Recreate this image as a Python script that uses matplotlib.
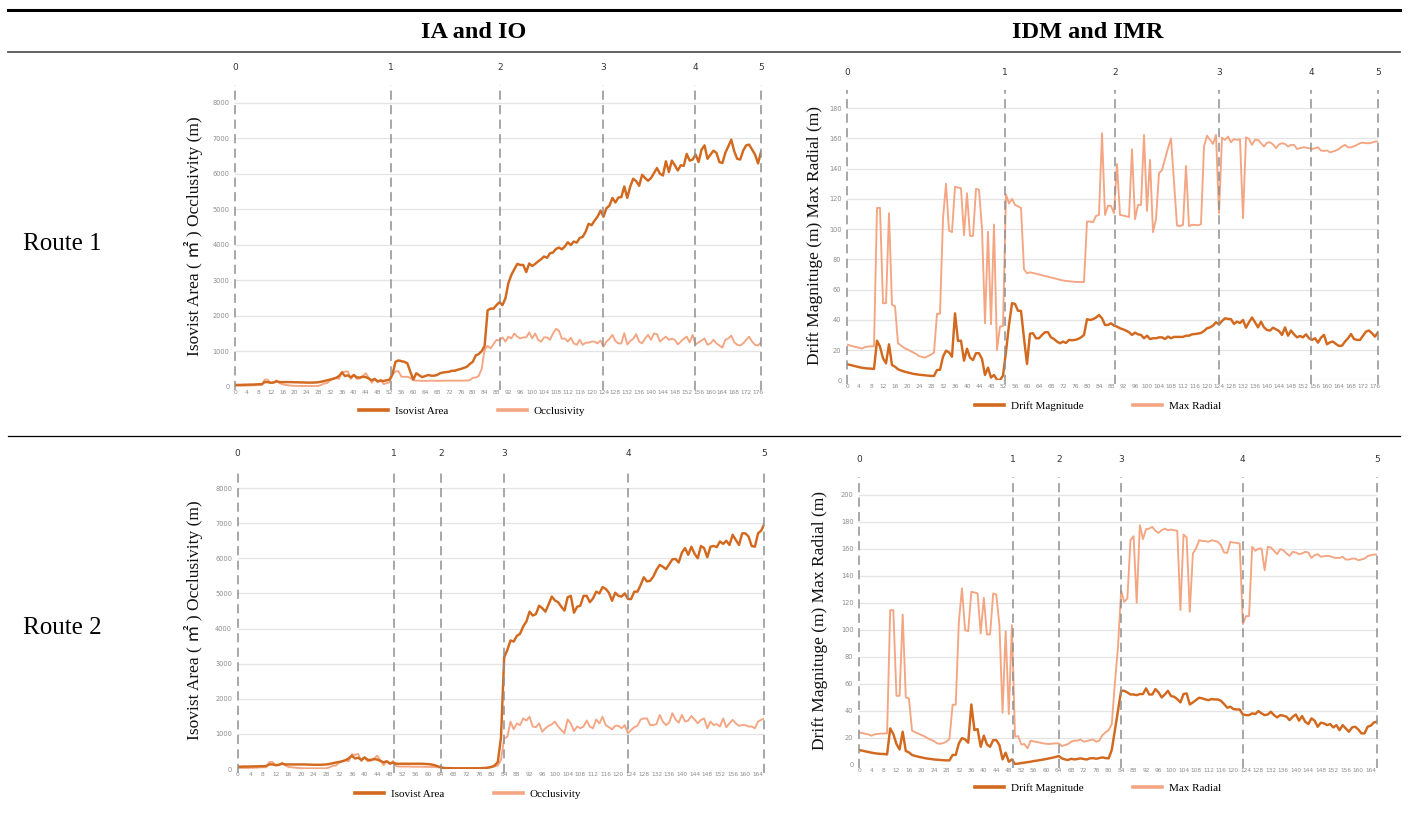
import numpy as np
import matplotlib
matplotlib.use("Agg")
import matplotlib.pyplot as plt
from matplotlib.lines import Line2D

W, H = 1408, 814
DARK = "#D2691E"
LIGHT = "#F4A582"
SERIF = ["Liberation Serif", "Noto Sans CJK SC", "DejaVu Sans"]

col_titles = ["IA and IO", "IDM and IMR"]
row_titles = ["Route 1", "Route 2"]
marker_labels = ["0", "1", "2", "3", "4", "5"]
area_names = ["Isovist Area", "Occlusivity"]
drift_names = ["Drift Magnitude", "Max Radial"]
area_ylabel = "Isovist Area ( ㎡ ) Occlusivity (m)"
drift_ylabel = "Drift Magnituge (m) Max Radial (m)"

# node positions (point index) along each route
route1_markers = [0, 52.5, 89.3, 124, 154.8, 177]
route2_markers = [0, 49.3, 64.2, 84, 123, 166]

# ---- Route 1 ----
route1_isovist_area = [
    50, 50, 50, 55, 55, 60, 60, 65, 70, 70,
    130, 130, 110, 120, 150, 130, 130, 130, 130, 130,
    125, 125, 120, 120, 115, 115, 115, 120, 125, 140,
    160, 180, 200, 220, 250, 300, 400, 300, 320, 260,
    330, 260, 260, 280, 270, 230, 180, 220, 150, 170,
    160, 180, 200, 350, 700, 740, 720, 700, 660, 420,
    200, 380, 320, 270, 300, 330, 310, 310, 330, 380,
    400, 410, 420, 450, 450, 480, 500, 530, 560, 640,
    700, 880, 920, 1000, 1150, 2150, 2200, 2200, 2300, 2380,
    2300, 2490, 2920, 3150, 3310, 3460, 3430, 3430, 3230, 3470,
    3400, 3460, 3530, 3590, 3670, 3630, 3760, 3780, 3880, 3920,
    3870, 3950, 4070, 3990, 4090, 4060, 4190, 4220, 4370, 4590,
    4550, 4680, 4790, 4960, 4790, 5030, 5100, 5320, 5190, 5330,
    5340, 5640, 5320, 5640, 5860, 5790, 5660, 5970, 5880, 5800,
    5880, 6020, 6160, 6000, 5950, 6350, 6050, 6370, 6240, 6090,
    6240, 6220, 6560, 6370, 6400, 6540, 6330, 6680, 6800, 6420,
    6540, 6650, 6590, 6330, 6300, 6590, 6770, 6960, 6630, 6420,
    6400, 6650, 6800, 6820, 6680, 6540, 6290, 6610,
]
route1_occlusivity = [
    30, 30, 30, 30, 30, 35, 40, 45, 50, 50,
    200, 200, 100, 110, 180, 100, 70, 50, 40, 30,
    25, 20, 20, 20, 20, 20, 20, 20, 20, 50,
    90, 100, 180, 230, 250, 220, 420, 420, 430, 220,
    330, 220, 230, 300, 380, 250, 110, 220, 130, 200,
    70, 100, 120, 350, 430, 440, 280, 280, 280, 250,
    180, 170, 170, 165, 165, 165, 170, 170, 165, 165,
    170, 170, 170, 170, 170, 170, 170, 170, 175, 180,
    250, 260, 300, 500, 1050, 1150, 1080, 1200, 1320, 1300,
    1390, 1270, 1410, 1360, 1500, 1410, 1360, 1390, 1390, 1530,
    1360, 1500, 1320, 1270, 1390, 1390, 1320, 1500, 1630, 1580,
    1350, 1360, 1270, 1380, 1220, 1180, 1320, 1180, 1240, 1240,
    1270, 1270, 1220, 1300, 1130, 1270, 1350, 1460, 1290, 1220,
    1220, 1510, 1190, 1290, 1350, 1480, 1270, 1220, 1360, 1460,
    1320, 1500, 1480, 1270, 1350, 1410, 1320, 1350, 1320, 1190,
    1270, 1350, 1410, 1250, 1460, 1190, 1250, 1300, 1360, 1180,
    1220, 1320, 1220, 1160, 1100, 1320, 1360, 1440, 1250, 1180,
    1160, 1220, 1320, 1410, 1270, 1180, 1160, 1250,
]
route1_drift_magnitude = [
    10.6, 10.2, 9.7, 9.2, 8.7, 8.3, 8, 7.8, 7.7, 7.5,
    26.2, 22.3, 14.6, 11.2, 23.8, 10.1, 9, 7.3, 6.5, 5.8,
    5.3, 4.8, 4.3, 4, 3.7, 3.5, 3.3, 3.1, 2.9, 2.9,
    6.8, 7, 15.6, 19.6, 18.5, 15.6, 44.3, 26, 26.2, 13,
    20.9, 15, 13.4, 17.9, 17.9, 14.1, 3.5, 8.4, 1.8, 3.5,
    0.4, 0.2, 3.1, 19, 36.6, 51, 50.5, 46, 45.9, 27.8,
    10.8, 30.9, 31.1, 27.8, 27.8, 30, 31.8, 31.8, 28.4, 27.3,
    25.6, 24.5, 25.6, 24.7, 26.7, 26.5, 26.7, 27.3, 28.4, 30,
    40.4, 39.9, 40.4, 41.5, 43.2, 41, 36.6, 36.6, 37.7, 36.2,
    35.5, 34.4, 33.7, 32.9, 31.8, 30, 31.5, 30.4, 30, 27.8,
    29.5, 27.3, 27.8, 27.8, 28.4, 28.4, 27.3, 28.9, 27.8, 28.7,
    28.7, 28.7, 28.7, 29.5, 29.5, 30.4, 30.6, 30.9, 31.3, 32.6,
    34.4, 35, 36.2, 38.4, 37, 39.2, 41, 40.6, 40.4, 37.3,
    38.8, 37.9, 39.9, 34.8, 38.4, 41.5, 38.4, 35, 38.8, 35,
    33.3, 32.9, 34.8, 33.7, 32.6, 30, 35, 29.5, 32.9, 30.4,
    28.4, 29.3, 28.4, 30.4, 27.8, 26.7, 27.8, 24.9, 28.2, 30,
    23.8, 25.1, 25.6, 24, 22.7, 22.9, 25.6, 27.8, 30.6, 27.3,
    26.7, 26.7, 29.5, 32.2, 32.9, 31.1, 28.9, 31.8,
]
route1_max_radial = [
    23.8, 23, 22.5, 22, 21.5, 21, 22, 22.3, 22.5, 22.5,
    114, 114, 51, 51, 110.5, 50, 49, 24.5, 23, 21.5,
    20.5, 19.5, 18.5, 17.5, 16, 15.5, 15, 16, 17, 18.3,
    44, 44, 107, 130, 99, 98, 128, 127.5, 127, 96,
    123.7, 95.5, 95.5, 126.6, 126, 100.5, 37.7, 98.3, 37, 103,
    20, 35.5, 36, 123, 117, 120, 116, 115, 114, 73.4,
    70.8, 71.4, 71, 70.5, 70, 69.5, 69, 68.5, 68, 67.5,
    67, 66.5, 66, 65.7, 65.5, 65.3, 65.1, 65, 65, 65,
    105, 105, 104.5, 108.7, 109.4, 163.4, 109.4, 115.5, 115.3, 110.5,
    143, 109.4, 109, 108.5, 108, 152.8, 106.5, 116, 116, 162.3,
    112, 145.8, 98, 106.7, 137, 139, 146.4, 153.5, 160, 131,
    102.3, 102, 102.8, 141.8, 102, 102.8, 102.8, 102.5, 103.2, 154.6,
    161.8, 159, 156.3, 162.3, 110.5, 160.5, 159, 161.2, 157.4, 159.6,
    159, 159.4, 107.2, 160.7, 159.6, 155.7, 159, 159, 156.8, 154.6,
    157.2, 157.4, 156, 153.5, 156, 156.8, 156.3, 154.6, 155.7, 155.7,
    153, 153.5, 154.1, 153.9, 153.5, 153, 153.5, 154.1, 152, 151.7,
    152, 150.8, 151.3, 152, 153, 154.6, 155.7, 154.1, 154.1, 154.8,
    155.7, 156.8, 157.2, 156.8, 156.8, 157.2, 157.9, 157.9,
]

# ---- Route 2 ----
route2_isovist_area = [
    60, 65, 70, 70, 70, 75, 75, 80, 80, 85,
    130, 130, 110, 120, 150, 130, 130, 130, 130, 130,
    130, 130, 125, 125, 120, 120, 120, 125, 130, 145,
    165, 185, 200, 220, 250, 300, 380, 300, 320, 260,
    330, 260, 260, 280, 270, 230, 190, 220, 160, 180,
    150, 150, 150, 150, 150, 150, 150, 150, 150, 145,
    140, 130, 110, 80, 50, 30, 25, 25, 20, 20,
    20, 20, 20, 20, 20, 20, 20, 25, 30, 40,
    60, 100, 200, 900, 3180, 3390, 3660, 3630, 3790, 3850,
    4060, 4200, 4480, 4370, 4410, 4650, 4580, 4480, 4690, 4910,
    4800, 4750, 4620, 4510, 4890, 4930, 4450, 4620, 4650, 4930,
    4930, 4750, 4860, 5050, 5000, 5180, 5130, 5020, 4790, 5020,
    4930, 4910, 5000, 4840, 4840, 5050, 5050, 5240, 5460, 5340,
    5360, 5480, 5670, 5810, 5760, 5690, 5830, 5970, 5980, 5880,
    6160, 6290, 6100, 6330, 6130, 6000, 6350, 6290, 6030, 6330,
    6350, 6320, 6480, 6410, 6500, 6380, 6670, 6520, 6380, 6710,
    6710, 6620, 6350, 6330, 6710, 6790, 6980,
]
route2_occlusivity = [
    30, 30, 30, 30, 35, 35, 40, 45, 50, 50,
    200, 200, 100, 110, 180, 100, 60, 50, 40, 30,
    25, 20, 20, 20, 20, 20, 20, 20, 20, 50,
    90, 100, 180, 230, 250, 220, 420, 400, 430, 220,
    330, 220, 230, 300, 380, 250, 110, 220, 130, 230,
    80, 70, 70, 70, 70, 65, 65, 65, 65, 60,
    60, 60, 55, 50, 40, 25, 20, 20, 20, 20,
    20, 20, 20, 20, 20, 20, 20, 20, 25, 40,
    50, 70, 100, 260, 870, 920, 1350, 1130, 1300, 1250,
    1440, 1380, 1490, 1210, 1190, 1300, 1060, 1160, 1230, 1270,
    1350, 1210, 1110, 1020, 1410, 1300, 1080, 1210, 1160, 1210,
    1380, 1210, 1160, 1410, 1300, 1490, 1250, 1190, 1130, 1230,
    1230, 1160, 1250, 1020, 1110, 1190, 1230, 1410, 1440, 1440,
    1250, 1250, 1280, 1540, 1350, 1250, 1320, 1590, 1410, 1320,
    1540, 1350, 1380, 1510, 1410, 1300, 1400, 1440, 1160, 1350,
    1250, 1280, 1210, 1440, 1190, 1300, 1400, 1300, 1230, 1250,
    1250, 1210, 1210, 1160, 1350, 1400, 1440,
]
route2_drift_magnitude = [
    10.9, 10.4, 9.9, 9.4, 8.9, 8.5, 8.2, 8, 7.9, 7.6,
    26.9, 22.7, 15.3, 11.3, 24.4, 10.1, 9.1, 7.2, 6.5, 5.9,
    5.4, 4.9, 4.5, 4.2, 3.9, 3.7, 3.5, 3.3, 3.2, 3.2,
    7.2, 7.2, 15.8, 19.7, 18.7, 16.3, 44.6, 25.6, 26.4, 13.3,
    21.5, 15, 13.3, 18.2, 18.2, 14.5, 3.9, 8.9, 2.2, 3.9,
    0.5, 0.8, 1.2, 1.5, 1.9, 2.2, 2.7, 3, 3.4, 3.8,
    4.2, 4.7, 5.2, 5.7, 6.4, 4.7, 3.9, 3.5, 4.4, 3.9,
    4.2, 4.7, 4.2, 3.9, 4.7, 4.9, 4.4, 4.9, 5.4, 4.9,
    4.7, 10.9, 25.6, 40.4, 54.7, 54.7, 53.5, 52, 52, 51.5,
    52.3, 52.3, 56.5, 52, 52, 56, 53.5, 49.8, 52, 54.7,
    50.8, 50.3, 48.6, 46.1, 52.3, 52.8, 44.6, 46.1, 47.8, 49.6,
    49.1, 48.3, 47.8, 48.6, 48.3, 48.3, 47.3, 44.9, 42.2, 42.9,
    41.2, 40.9, 40.9, 37.2, 36.7, 36.7, 38, 37.5, 39.7, 38,
    36.7, 37.2, 39.2, 36.7, 35, 36.7, 36.3, 35.5, 33, 35.5,
    37.2, 32.6, 36, 31.8, 30.1, 34.3, 32.6, 28.1, 31.1, 30.6,
    29.3, 30.1, 27.6, 29.3, 25.6, 29.3, 26.9, 24.4, 27.6, 28.1,
    26.1, 23.2, 23.2, 28.1, 28.9, 31.3, 31.8,
]
route2_max_radial = [
    23.9, 23.4, 22.9, 22.4, 21.5, 22.5, 22.8, 23, 23.1, 23.2,
    114.4, 114.4, 51, 51, 111.2, 49.8, 49, 25.2, 24, 23,
    22, 21, 19.5, 18.5, 17.5, 15.8, 15.5, 16, 17, 19.2,
    44.4, 44.4, 105.8, 130.5, 99.6, 98.9, 128, 127.5, 126.8, 97.2,
    123.6, 96.4, 96.4, 126.8, 126, 103.3, 38.5, 98.9, 37.5, 103.3,
    20.7, 21.2, 15, 15.3, 12.1, 17.8, 17.2, 16.8, 16.3, 15.8,
    15.5, 15.3, 15.6, 15.8, 15.8, 13.8, 14.5, 15.3, 17, 17.8,
    17.8, 18.7, 17, 17.5, 18.2, 18.7, 17, 17.8, 21.9, 23.9,
    25.6, 30, 60.2, 87.3, 128.7, 120.6, 123, 166.2, 169.2, 119.8,
    177.3, 167, 174.4, 174.8, 176.1, 173.1, 171.6, 173.6, 174.8, 173.6,
    174.1, 173.6, 173.1, 114.4, 170.4, 168.2, 113.2, 156.4, 160, 166.2,
    165.7, 165.5, 165, 166.2, 165.7, 165, 162.5, 157.1, 156.8, 165,
    164.5, 164.2, 163.7, 104.1, 110, 110, 161.3, 158.3, 160, 160,
    144, 161.3, 160.8, 158.3, 155.9, 159.6, 158.8, 156.4, 154.6, 157.6,
    157.1, 155.9, 156.4, 157.6, 157.1, 153.1, 155.1, 155.9, 153.9, 154.4,
    154.6, 154.4, 153.4, 153.1, 153.1, 153.9, 151.9, 151.9, 152.6, 152.6,
    151.4, 151.9, 152.6, 154.4, 155.1, 155.6, 155.6,
]

fig = plt.figure(figsize=(W / 100, H / 100), dpi=100)
fig.patch.set_facecolor("white")


def px_axes(l, t, r, b):
    return fig.add_axes([l / W, 1 - b / H, (r - l) / W, (b - t) / H])


def hline(y, x0, x1, color, lw):
    fig.add_artist(Line2D([x0 / W, x1 / W], [1 - y / H, 1 - y / H],
                          color=color, lw=lw, transform=fig.transFigure))


def panel(box, dark, light, names, markers, ymax, ytop, ystep,
          ylabel, label_x, legend_xy):
    ax = px_axes(*box)
    x = np.arange(len(dark))
    ax.plot(x, light, color=LIGHT, lw=1.35, zorder=3)
    ax.plot(x, dark, color=DARK, lw=1.75, zorder=4)
    ax.set_xlim(0, len(dark) - 1)
    ax.set_ylim(0, ytop)
    ax.set_xticks(np.arange(0, len(dark), 4))
    ax.set_yticks(np.arange(0, ymax + 1, ystep))
    ax.tick_params(length=0, labelsize=4.8, labelcolor="#8c8c8c", pad=2.5)
    ax.tick_params(axis="x", labelsize=4.2)
    ax.tick_params(axis="y", pad=4)
    ax.grid(axis="y", color="#e4e4e4", lw=0.9)
    ax.set_axisbelow(True)
    for s in ax.spines.values():
        s.set_visible(False)
    for m, lab in zip(markers, marker_labels):
        ax.axvline(m, ymin=-0.012, ymax=1, color="#8f8f8f", lw=1.1,
                   ls=(0, (6, 3.5)), clip_on=False, zorder=5)
        ax.annotate(lab, xy=(m, 1), xycoords=("data", "axes fraction"),
                    xytext=(0, 12.5), textcoords="offset points",
                    ha="center", va="center", fontsize=6.5, color="#333333")
    l, t, r, b = box
    fig.text(label_x / W, 1 - (t + b) / 2 / H, ylabel, rotation=90,
             ha="center", va="center", fontsize=12.5, family=SERIF,
             color="#111111")
    handles = [Line2D([], [], color=DARK, lw=2.6),
               Line2D([], [], color=LIGHT, lw=2.6)]
    fig.legend(handles, names, loc="center",
               bbox_to_anchor=(legend_xy[0] / W, 1 - legend_xy[1] / H),
               bbox_transform=fig.transFigure, ncol=2, frameon=False,
               prop={"family": SERIF, "size": 8}, handlelength=2.6,
               columnspacing=4.5, handletextpad=0.6)
    return ax


# table rules and headings
hline(10, 8, 1400, "black", 2.2)
hline(52, 8, 1400, "#555555", 1.3)
hline(436, 8, 1400, "black", 0.9)
fig.text(474 / W, 1 - 32 / H, col_titles[0], ha="center", va="center",
         fontsize=17.5, weight="bold", family=SERIF)
fig.text(1088 / W, 1 - 32 / H, col_titles[1], ha="center", va="center",
         fontsize=17.5, weight="bold", family=SERIF)
fig.text(62 / W, 1 - 244 / H, row_titles[0], ha="center", va="center",
         fontsize=18, family=SERIF)
fig.text(62 / W, 1 - 628 / H, row_titles[1], ha="center", va="center",
         fontsize=18, family=SERIF)

panel((235, 85, 761, 386.7), route1_isovist_area, route1_occlusivity,
      area_names, route1_markers, 8000, 8500, 1000,
      area_ylabel, 193, (472, 411))
panel((847, 90, 1378, 380.3), route1_drift_magnitude, route1_max_radial,
      drift_names, route1_markers, 180, 192, 20,
      drift_ylabel, 815, (1098, 406))
panel((237.6, 470.5, 764.4, 769), route2_isovist_area, route2_occlusivity,
      area_names, route2_markers, 8000, 8500, 1000,
      area_ylabel, 193, (468, 794))
panel((859, 477, 1377, 764.7), route2_drift_magnitude, route2_max_radial,
      drift_names, route2_markers, 200, 213, 20,
      drift_ylabel, 820, (1098, 788))

fig.savefig("out.png", dpi=100)
